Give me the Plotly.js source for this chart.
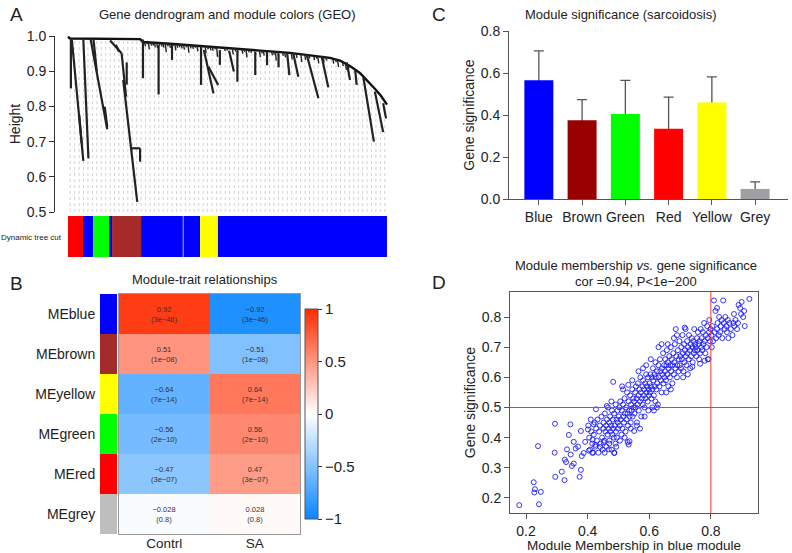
<!DOCTYPE html>
<html>
<head>
<meta charset="utf-8">
<script src="https://cdn.plot.ly/plotly-3.0.1.min.js"></script>
<style>
  html, body { margin: 0; padding: 0; background: #fff; }
  #fig { width: 792px; height: 553px; }
</style>
</head>
<body>
<div id="fig"></div>
<script>
// ---------- A: dendrogram (leaf position 0..1, height) ----------
var backboneX = [0, 0.006, 0.226, 0.235, 0.32, 0.414, 0.508, 0.602, 0.696, 0.759, 0.821, 0.853, 0.884, 0.915, 0.940, 0.962, 0.981, 1.0];
var backboneH = [0.998, 0.993, 0.991, 0.983, 0.978, 0.972, 0.966, 0.960, 0.952, 0.945, 0.938, 0.930, 0.915, 0.895, 0.872, 0.850, 0.830, 0.805];

// branch segments: start (x0,h0) -> end (x1,h1)
var branchX0 = [0.009, 0.012, 0.035, 0.048, 0.071, 0.115, 0.132, 0.168, 0.173, 0.184, 0.200, 0.226, 0.235, 0.284, 0.326, 0.417, 0.426, 0.440, 0.476, 0.505, 0.531, 0.587, 0.624, 0.660, 0.687, 0.706, 0.748, 0.795, 0.874, 0.900, 0.926, 0.962, 0.988, 0.080, 0.150];
var branchH0 = [0.990, 0.990, 0.776, 0.990, 0.990, 0.799, 0.987, 0.951, 0.875, 0.925, 0.681, 0.681, 0.990, 0.974, 0.975, 0.970, 0.960, 0.913, 0.960, 0.958, 0.958, 0.956, 0.954, 0.950, 0.952, 0.951, 0.948, 0.943, 0.925, 0.905, 0.882, 0.842, 0.809, 0.990, 0.975];
var branchX1 = [0.009, 0.048, 0.043, 0.064, 0.123, 0.123, 0.168, 0.182, 0.217, 0.184, 0.226, 0.226, 0.235, 0.284, 0.326, 0.417, 0.456, 0.471, 0.476, 0.520, 0.531, 0.587, 0.624, 0.660, 0.694, 0.722, 0.785, 0.816, 0.884, 0.905, 0.959, 0.988, 0.997, 0.090, 0.160];
var branchH1 = [0.851, 0.645, 0.695, 0.652, 0.735, 0.742, 0.951, 0.828, 0.529, 0.862, 0.681, 0.643, 0.880, 0.834, 0.932, 0.861, 0.837, 0.861, 0.918, 0.899, 0.870, 0.889, 0.917, 0.911, 0.889, 0.884, 0.823, 0.854, 0.875, 0.861, 0.700, 0.727, 0.766, 0.900, 0.955];

// short twigs hanging from the backbone: position and depth below it
var twigX = [0.24, 0.246, 0.252, 0.259, 0.265, 0.271, 0.278, 0.285, 0.292, 0.298, 0.305, 0.311, 0.318, 0.327, 0.335, 0.341, 0.348, 0.355, 0.362, 0.369, 0.376, 0.383, 0.39, 0.397, 0.404, 0.43, 0.437, 0.445, 0.452, 0.459, 0.466, 0.49, 0.497, 0.515, 0.523, 0.53, 0.545, 0.551, 0.558, 0.565, 0.572, 0.6, 0.606, 0.612, 0.62, 0.638, 0.644, 0.65, 0.657, 0.672, 0.679, 0.7, 0.715, 0.73, 0.742, 0.755, 0.77, 0.777, 0.783, 0.8, 0.808, 0.83, 0.838, 0.845, 0.86, 0.87, 0.878];
var twigD = [0.012, 0.006, 0.02, 0.009, 0.008, 0.013, 0.015, 0.007, 0.01, 0.012, 0.025, 0.008, 0.012, 0.006, 0.018, 0.01, 0.008, 0.011, 0.014, 0.007, 0.022, 0.009, 0.01, 0.006, 0.016, 0.02, 0.008, 0.011, 0.012, 0.007, 0.028, 0.01, 0.008, 0.018, 0.009, 0.012, 0.014, 0.008, 0.024, 0.009, 0.01, 0.02, 0.009, 0.015, 0.008, 0.012, 0.009, 0.026, 0.01, 0.01, 0.014, 0.018, 0.012, 0.022, 0.015, 0.009, 0.012, 0.007, 0.02, 0.016, 0.009, 0.014, 0.008, 0.02, 0.012, 0.018, 0.01];

var treeCutStart = [0, 0.047, 0.079, 0.129, 0.138, 0.229, 0.360, 0.363, 0.414, 0.470];
var treeCutEnd   = [0.047, 0.079, 0.129, 0.138, 0.229, 0.360, 0.363, 0.414, 0.470, 1.0];
var treeCutColor = ['#FF0000', '#0000FF', '#00FF00', '#0000FF', '#A52A2A', '#0000FF', '#888888', '#0000FF', '#FFFF00', '#0000FF'];
var guideCount = 72;

// ---------- B: module-trait heatmap ----------
var modules = ['MEblue', 'MEbrown', 'MEyellow', 'MEgreen', 'MEred', 'MEgrey'];
var moduleColors = ['#0000FF', '#A52A2A', '#FFFF00', '#00FF00', '#FF0000', '#BEBEBE'];
var traits = ['Contrl', 'SA'];
var traitCor = [[0.92, -0.92], [0.51, -0.51], [-0.64, 0.64], [-0.56, 0.56], [-0.47, 0.47], [-0.028, 0.028]];
var traitP = [['3e\u221246', '3e\u221246'], ['1e\u221208', '1e\u221208'], ['7e\u221214', '7e\u221214'], ['2e\u221210', '2e\u221210'], ['3e\u221207', '3e\u221207'], ['0.8', '0.8']];

// ---------- C: module significance ----------
var sigModules = ['Blue', 'Brown', 'Green', 'Red', 'Yellow', 'Grey'];
var sigValues = [0.565, 0.375, 0.405, 0.335, 0.46, 0.048];
var sigErr = [0.14, 0.098, 0.16, 0.15, 0.122, 0.034];
var sigColors = ['#0000FF', '#990000', '#00FF00', '#FF0000', '#FFFF00', '#A0A0A4'];

// ---------- D: module membership vs gene significance ----------
var mmCut = 0.8;
var gsCut = 0.5;
var mmGs = [
  [0.178,0.176],[0.225,0.252],[0.229,0.229],[0.227,0.218],[0.248,0.220],[0.242,0.179],[0.239,0.372],[0.293,0.350],[0.294,0.446],[0.295,0.270],
  [0.316,0.287],[0.325,0.259],[0.326,0.327],[0.330,0.319],[0.333,0.361],[0.339,0.409],[0.344,0.444],[0.345,0.344],[0.349,0.306],[0.355,0.314],
  [0.355,0.386],[0.361,0.364],[0.369,0.370],[0.374,0.270],[0.378,0.293],[0.378,0.422],[0.381,0.339],[0.387,0.349],[0.392,0.386],[0.401,0.427],
  [0.404,0.357],[0.415,0.350],[0.416,0.393],[0.419,0.444],[0.427,0.494],[0.425,0.376],[0.441,0.369],[0.452,0.385],[0.469,0.361],[0.486,0.349],
  [0.483,0.585],[0.533,0.377],[0.536,0.388],[0.551,0.422],
  [0.402,0.44],[0.405,0.40],[0.408,0.36],[0.41,0.46],[0.412,0.42],[0.415,0.38],[0.418,0.35],[0.42,0.41],[0.423,0.45],[0.425,0.37],
  [0.428,0.43],[0.43,0.39],[0.432,0.46],[0.435,0.35],[0.437,0.42],[0.44,0.44],[0.442,0.38],[0.445,0.47],[0.447,0.40],[0.449,0.36],
  [0.451,0.43],[0.452,0.45],[0.454,0.39],[0.456,0.48],[0.458,0.42],[0.46,0.44],[0.461,0.37],[0.463,0.46],[0.465,0.41],[0.466,0.50],
  [0.468,0.43],[0.47,0.45],[0.471,0.39],[0.473,0.47],[0.474,0.42],[0.476,0.44],[0.478,0.36],[0.479,0.49],[0.48,0.41],[0.482,0.46],
  [0.483,0.43],[0.485,0.40],[0.486,0.48],[0.488,0.44],[0.49,0.38],[0.491,0.51],[0.492,0.42],[0.494,0.46],[0.495,0.40],[0.497,0.49],
  [0.498,0.45],[0.499,0.43],[0.455,0.35],[0.47,0.38],[0.487,0.35],[0.462,0.505],[0.477,0.52],[0.493,0.37],
  [0.501,0.47],[0.503,0.50],[0.504,0.44],[0.506,0.52],[0.508,0.46],[0.51,0.41],[0.511,0.49],[0.513,0.43],[0.515,0.51],[0.516,0.47],
  [0.518,0.45],[0.52,0.53],[0.521,0.48],[0.523,0.42],[0.525,0.50],[0.526,0.46],[0.528,0.55],[0.53,0.48],[0.531,0.44],[0.533,0.52],
  [0.535,0.49],[0.536,0.47],[0.538,0.54],[0.54,0.45],[0.541,0.51],[0.543,0.49],[0.545,0.56],[0.546,0.47],[0.548,0.53],[0.549,0.50],
  [0.505,0.39],[0.515,0.56],[0.52,0.40],[0.53,0.385],[0.54,0.43],[0.545,0.59],[0.512,0.57],[0.532,0.575],
  [0.551,0.52],[0.552,0.48],[0.554,0.55],[0.556,0.50],[0.557,0.57],[0.559,0.53],[0.56,0.45],[0.562,0.51],[0.563,0.58],[0.565,0.54],
  [0.566,0.49],[0.568,0.56],[0.57,0.52],[0.571,0.60],[0.573,0.55],[0.574,0.47],[0.576,0.53],[0.578,0.57],[0.579,0.51],[0.58,0.59],
  [0.582,0.54],[0.583,0.56],[0.585,0.50],[0.587,0.58],[0.588,0.53],[0.59,0.61],[0.591,0.55],[0.593,0.57],[0.595,0.52],[0.596,0.60],
  [0.598,0.56],[0.599,0.54],[0.56,0.44],[0.57,0.43],[0.585,0.47],[0.597,0.49],[0.565,0.62],[0.58,0.63],[0.59,0.64],
  [0.601,0.58],[0.602,0.55],[0.604,0.61],[0.605,0.57],[0.607,0.53],[0.608,0.60],[0.61,0.56],[0.612,0.63],[0.613,0.59],[0.615,0.54],
  [0.617,0.61],[0.618,0.57],[0.62,0.65],[0.621,0.60],[0.623,0.56],[0.625,0.62],[0.626,0.58],[0.628,0.51],[0.63,0.64],[0.631,0.60],
  [0.633,0.57],[0.635,0.66],[0.636,0.62],[0.638,0.59],[0.64,0.55],[0.641,0.63],[0.643,0.61],[0.645,0.68],[0.646,0.58],[0.648,0.64],
  [0.649,0.60],[0.61,0.50],[0.62,0.52],[0.63,0.70],[0.64,0.71],[0.605,0.66],[0.615,0.49],[0.625,0.50],
  [0.651,0.62],[0.652,0.66],[0.654,0.59],[0.656,0.64],[0.657,0.69],[0.659,0.61],[0.66,0.65],[0.662,0.57],[0.663,0.63],[0.665,0.67],
  [0.667,0.60],[0.668,0.64],[0.67,0.70],[0.671,0.62],[0.673,0.66],[0.675,0.58],[0.676,0.64],[0.678,0.68],[0.68,0.61],[0.681,0.65],
  [0.683,0.71],[0.685,0.63],[0.686,0.76],[0.688,0.67],[0.69,0.60],[0.691,0.64],[0.693,0.69],[0.695,0.62],[0.696,0.66],[0.698,0.72],
  [0.699,0.64],[0.655,0.55],[0.67,0.56],[0.68,0.73],[0.69,0.74],[0.66,0.71],
  [0.701,0.67],[0.703,0.63],[0.704,0.70],[0.706,0.66],[0.708,0.74],[0.709,0.68],[0.711,0.62],[0.713,0.71],[0.714,0.65],[0.716,0.69],
  [0.718,0.76],[0.719,0.67],[0.721,0.64],[0.723,0.72],[0.724,0.68],[0.726,0.70],[0.728,0.66],[0.729,0.74],[0.731,0.69],[0.733,0.63],
  [0.735,0.71],[0.736,0.67],[0.738,0.73],[0.74,0.70],[0.741,0.65],[0.743,0.72],[0.745,0.68],[0.746,0.76],[0.748,0.69],[0.749,0.71],
  [0.71,0.60],[0.725,0.61],[0.74,0.635],[0.715,0.765],
  [0.751,0.70],[0.753,0.67],[0.755,0.73],[0.756,0.69],[0.758,0.75],[0.76,0.71],[0.762,0.66],[0.763,0.72],[0.765,0.68],[0.767,0.76],
  [0.769,0.70],[0.77,0.73],[0.772,0.69],[0.774,0.75],[0.776,0.71],[0.778,0.78],[0.78,0.72],[0.782,0.68],[0.784,0.74],[0.786,0.70],
  [0.788,0.77],[0.79,0.73],[0.792,0.66],[0.794,0.75],[0.795,0.79],[0.797,0.72],[0.799,0.76],[0.765,0.645],[0.78,0.655],[0.79,0.66],
  [0.802,0.74],[0.805,0.77],[0.807,0.72],[0.81,0.855],[0.812,0.75],[0.815,0.82],[0.817,0.73],[0.82,0.76],[0.822,0.78],[0.825,0.74],
  [0.827,0.80],[0.83,0.75],[0.832,0.77],[0.835,0.79],[0.837,0.73],[0.84,0.855],[0.842,0.78],[0.845,0.76],[0.847,0.80],[0.85,0.77],
  [0.852,0.75],[0.855,0.79],[0.857,0.73],[0.86,0.78],[0.865,0.76],[0.87,0.74],[0.873,0.78],[0.876,0.77],[0.88,0.79],[0.885,0.76],
  [0.888,0.78],[0.89,0.84],[0.895,0.83],[0.898,0.81],[0.90,0.85],[0.905,0.80],[0.908,0.82],[0.91,0.77],[0.925,0.86],[0.875,0.81],
  [0.82,0.83],[0.803,0.70]
];

// ---------- helpers ----------
var FONT = '"Liberation Sans", Arial, sans-serif';
var W = 792, H = 553;
function fx(px) { return px / W; }
function fy(py) { return 1 - py / H; }

function backboneAt(x) {
  for (var i = 1; i < backboneX.length; i++) {
    if (x <= backboneX[i]) {
      var t = (x - backboneX[i - 1]) / (backboneX[i] - backboneX[i - 1]);
      return backboneH[i - 1] + t * (backboneH[i] - backboneH[i - 1]);
    }
  }
  return backboneH[backboneH.length - 1];
}

// guides
var gx = [], gy = [];
for (var i = 0; i < guideCount; i++) {
  var g = (i + 0.5) / guideCount;
  gx.push(g, g, null);
  gy.push(0.5, backboneAt(g) - 0.004, null);
}
// branches
var bx = [], by = [];
for (var i = 0; i < branchX0.length; i++) {
  bx.push(branchX0[i], branchX1[i], null);
  by.push(branchH0[i], branchH1[i], null);
}
// twigs
var tx = [], ty = [];
for (var i = 0; i < twigX.length; i++) {
  var twigTop = backboneAt(twigX[i]);
  tx.push(twigX[i], twigX[i] + 0.003, null);
  ty.push(twigTop, twigTop - twigD[i], null);
}

var heatText = traitCor.map(function (row, r) {
  return row.map(function (v, c) {
    return String(v).replace('-', '\u2212') + '<br>(' + traitP[r][c] + ')';
  });
});

var data = [
  { x: gx, y: gy, xaxis: 'x', yaxis: 'y', mode: 'lines', hoverinfo: 'skip',
    line: { color: '#c8c8c8', width: 0.8, dash: 'dot' }, showlegend: false },
  { x: backboneX, y: backboneH, xaxis: 'x', yaxis: 'y', mode: 'lines',
    line: { color: '#111', width: 2.4 }, showlegend: false },
  { x: bx, y: by, xaxis: 'x', yaxis: 'y', mode: 'lines',
    line: { color: '#222', width: 2.2 }, showlegend: false },
  { x: tx, y: ty, xaxis: 'x', yaxis: 'y', mode: 'lines',
    line: { color: '#222', width: 1.4 }, showlegend: false },

  { type: 'heatmap', x: traits, y: modules, z: traitCor, xaxis: 'x2', yaxis: 'y2',
    zmin: -1, zmax: 1, text: heatText, texttemplate: '%{text}',
    textfont: { size: 7.5, color: '#333', family: FONT },
    colorscale: [[0, 'rgb(10,134,255)'], [0.5, 'rgb(255,255,255)'], [1, 'rgb(255,44,0)']],
    colorbar: { x: fx(305), xanchor: 'left', y: fy(414), yanchor: 'middle', len: 210 / H,
      thickness: 13, outlinecolor: '#555', outlinewidth: 1, xpad: 0, ypad: 0,
      tickvals: [-1, -0.5, 0, 0.5, 1], ticktext: ['\u22121', '\u22120.5', '0', '0.5', '1'],
      ticks: 'outside', ticklen: 4, tickcolor: '#333', tickfont: { size: 15, color: '#222', family: FONT } },
    showscale: true },

  // whiskers (lower half hidden under the coloured bars drawn next)
  { type: 'bar', x: sigModules, y: sigValues, xaxis: 'x3', yaxis: 'y3', width: 0.67,
    marker: { color: 'rgba(0,0,0,0)', line: { width: 0 } },
    error_y: { type: 'data', array: sigErr, color: '#555', thickness: 1.3, width: 5 }, showlegend: false },
  { type: 'bar', x: sigModules, y: sigValues, xaxis: 'x3', yaxis: 'y3', width: 0.67,
    marker: { color: sigColors, line: { width: 0 } }, showlegend: false },

  { type: 'scatter', mode: 'markers', xaxis: 'x4', yaxis: 'y4',
    x: mmGs.map(function (p) { return p[0]; }), y: mmGs.map(function (p) { return p[1]; }),
    marker: { symbol: 'circle-open', size: 5, color: 'rgba(20,20,255,0.85)', line: { width: 1 } },
    showlegend: false }
];

var axisFont = { size: 14, color: '#222', family: FONT };
var layout = {
  width: W, height: H,
  margin: { l: 0, r: 0, t: 0, b: 0 },
  paper_bgcolor: '#fff', plot_bgcolor: 'rgba(0,0,0,0)',
  font: { family: FONT, color: '#222' },
  showlegend: false,
  barmode: 'overlay',

  xaxis: { domain: [fx(55), fx(392)], range: [-0.0408, 1.0157], visible: false, anchor: 'y' },
  yaxis: { domain: [fy(212), fy(36)], range: [0.5, 1.0], anchor: 'x', tick0: 0.5, dtick: 0.1, tickformat: '.1f',
    showline: true, linecolor: '#333', ticks: 'outside', ticklen: 5, tickcolor: '#333',
    showgrid: false, zeroline: false, tickfont: axisFont,
    title: { text: 'Height', font: { size: 14, family: FONT }, standoff: 2 } },

  xaxis2: { domain: [fx(119), fx(300)], anchor: 'y2', showline: true, mirror: true, linecolor: '#999',
    ticks: '', ticklabelstandoff: -3, tickfont: { size: 13.5, color: '#222', family: FONT },
    showgrid: false, zeroline: false },
  yaxis2: { domain: [fy(534), fy(294)], anchor: 'x2', autorange: 'reversed', showline: true, mirror: true,
    linecolor: '#999', ticks: '', ticklabelstandoff: 20, tickfont: axisFont, showgrid: false, zeroline: false },

  xaxis3: { domain: [fx(509), fx(788)], anchor: 'y3', range: [-0.69, 5.76], showline: true, linecolor: '#555',
    ticks: 'outside', ticklen: 5, tickcolor: '#555', tickfont: axisFont, showgrid: false, zeroline: false },
  yaxis3: { domain: [fy(199), fy(31)], anchor: 'x3', range: [0, 0.8], dtick: 0.2, tickformat: '.1f',
    showline: true, linecolor: '#555', ticks: 'outside', ticklen: 5, tickcolor: '#555', tickfont: axisFont,
    showgrid: false, zeroline: false,
    title: { text: 'Gene significance', font: { size: 14, family: FONT }, standoff: 2 } },

  xaxis4: { domain: [fx(510), fx(758)], anchor: 'y4', range: [0.148, 0.953], tick0: 0.2, dtick: 0.2, tickformat: '.1f',
    showline: true, mirror: true, linecolor: '#555', ticks: 'outside', ticklen: 5, tickcolor: '#555',
    tickfont: axisFont, showgrid: false, zeroline: false,
    title: { text: 'Module Membership in blue module', font: { size: 13.5, family: FONT }, standoff: 3 } },
  yaxis4: { domain: [fy(513), fy(292)], anchor: 'x4', range: [0.150, 0.883], tick0: 0.2, dtick: 0.1, tickformat: '.1f',
    showline: true, mirror: true, linecolor: '#555', ticks: 'outside', ticklen: 5, tickcolor: '#555',
    tickfont: axisFont, showgrid: false, zeroline: false,
    title: { text: 'Gene significance', font: { size: 14, family: FONT }, standoff: 2 } },

  shapes: [],
  annotations: []
};

// tree-cut colour bar
for (var i = 0; i < treeCutStart.length; i++) {
  layout.shapes.push({ type: 'rect', xref: 'x', yref: 'paper', x0: treeCutStart[i], x1: treeCutEnd[i],
    y0: fy(257), y1: fy(216), fillcolor: treeCutColor[i], line: { width: 0 }, layer: 'below' });
}
// module colour strip
for (var i = 0; i < modules.length; i++) {
  layout.shapes.push({ type: 'rect', xref: 'paper', yref: 'y2', x0: fx(100), x1: fx(117),
    y0: i - 0.5, y1: i + 0.5, fillcolor: moduleColors[i], line: { width: 0 } });
}
// threshold lines
layout.shapes.push({ type: 'line', xref: 'x4', yref: 'y4 domain', x0: mmCut, x1: mmCut, y0: 0, y1: 1,
  line: { color: '#ff3030', width: 1 } });
layout.shapes.push({ type: 'line', xref: 'x4 domain', yref: 'y4', x0: 0, x1: 1, y0: gsCut, y1: gsCut,
  line: { color: '#ff3030', width: 1 } });

function note(text, px, py, size, anchor) {
  layout.annotations.push({ text: text, xref: 'paper', yref: 'paper', x: fx(px), y: fy(py),
    xanchor: anchor || 'center', yanchor: 'middle', showarrow: false,
    font: { size: size, family: FONT, color: '#222' } });
}
note('A', 8, 15, 19, 'left');
note('Gene dendrogram and module colors (GEO)', 227, 15, 13);
note('Dynamic tree cut', 64, 237, 8, 'right');
note('B', 8, 283, 19, 'left');
note('Module-trait relationships', 205, 279, 13);
note('C', 430, 15, 19, 'left');
note('Module significance (sarcoidosis)', 620, 15, 13);
note('D', 430, 282, 19, 'left');
note('Module membership <i>vs.</i> gene significance', 636, 265, 13);
note('cor =0.94, P<1e\u2212200', 636, 281, 13);

Plotly.newPlot('fig', data, layout, { staticPlot: true });
</script>
</body>
</html>
